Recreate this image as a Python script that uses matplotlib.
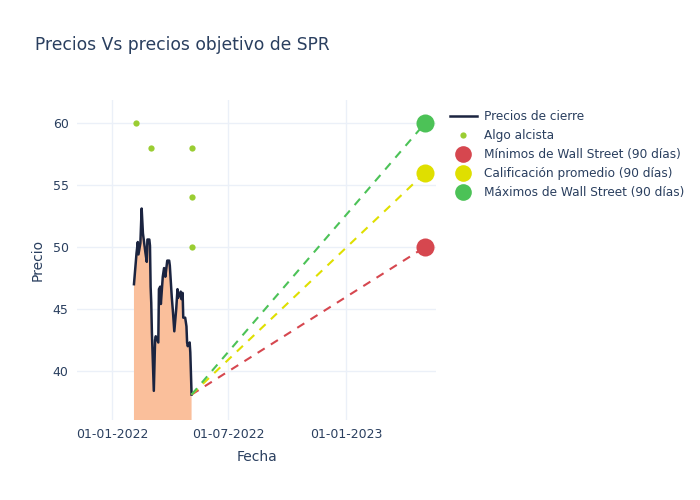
import matplotlib
matplotlib.use("Agg")
import matplotlib.pyplot as plt
import matplotlib.dates as mdates
from matplotlib.lines import Line2D
import pandas as pd

# ---- data ----
price_dates = ["2022-02-04", "2022-02-08", "2022-02-10", "2022-02-11", "2022-02-14",
               "2022-02-16", "2022-02-18", "2022-02-22", "2022-02-24", "2022-02-25",
               "2022-02-28", "2022-03-01", "2022-03-02", "2022-03-03", "2022-03-04",
               "2022-03-07", "2022-03-09", "2022-03-10", "2022-03-14", "2022-03-15",
               "2022-03-17", "2022-03-18", "2022-03-21", "2022-03-23", "2022-03-25",
               "2022-03-28", "2022-03-31", "2022-04-01", "2022-04-04", "2022-04-06",
               "2022-04-08", "2022-04-11", "2022-04-13", "2022-04-14", "2022-04-18",
               "2022-04-19", "2022-04-21", "2022-04-22", "2022-04-25", "2022-04-27",
               "2022-04-28", "2022-04-29", "2022-05-02", "2022-05-03", "2022-05-05"]
price_values = [47.0, 49.5, 50.4, 49.4, 50.3,
                53.1, 51.1, 49.5, 48.8, 50.6,
                50.6, 50.1, 46.8, 45.5, 43.1,
                38.4, 42.5, 42.8, 42.3, 46.6,
                46.8, 45.4, 47.6, 48.3, 47.6,
                48.9, 48.9, 48.5, 46.0, 44.7,
                43.2, 45.0, 46.6, 45.9, 46.4,
                45.8, 46.3, 44.3, 44.3, 43.6,
                42.3, 42.0, 42.3, 41.5, 38.1]

alcista_dates = ["2022-02-07", "2022-03-03", "2022-05-05", "2022-05-05", "2022-05-05"]
alcista_values = [60, 58, 58, 54, 50]

target_date = "2023-05-05"
target_labels = ["Mínimos de Wall Street (90 días)",
                 "Calificación promedio (90 días)",
                 "Máximos de Wall Street (90 días)"]
target_values = [50, 56, 60]
target_colors = ["#d6474f", "#dfdf00", "#4cc257"]

xtick_dates = ["2022-01-01", "2022-07-01", "2023-01-01"]
xtick_labels = ["01-01-2022", "01-07-2022", "01-01-2023"]
ytick_values = [40, 45, 50, 55, 60]

# ---- plot ----
text_color = "#2a3f5f"
grid_color = "#ebf0f8"

fig = plt.figure(figsize=(7, 5), dpi=100)
ax = fig.add_axes([0.11, 0.16, 0.513, 0.64])

pd_dates = pd.to_datetime(price_dates)
ax.fill_between(pd_dates, price_values, 0, color="#fabf9b", linewidth=0, zorder=2)
ax.plot(pd_dates, price_values, color="#1b2440", linewidth=1.8, zorder=3)

ax.plot(pd.to_datetime(alcista_dates), alcista_values, "o", color="#9acd32",
        markersize=4.5, markeredgewidth=0, zorder=4)

last_date = pd_dates[-1]
last_val = price_values[-1]
tdate = pd.to_datetime(target_date)
for val, col in zip(target_values, target_colors):
    ax.plot([last_date, tdate], [last_val, val], color=col, linestyle=(0, (4, 3.5)),
            linewidth=1.5, zorder=4)
for val, col in zip(target_values, target_colors):
    ax.plot([tdate], [val], "o", color=col, markersize=13, markeredgewidth=0, zorder=5)

ax.set_xlim(pd.to_datetime("2021-11-07"), pd.to_datetime("2023-05-22"))
ax.set_ylim(36.05, 61.85)
ax.set_xticks(pd.to_datetime(xtick_dates))
ax.set_xticklabels(xtick_labels)
ax.set_yticks(ytick_values)
ax.tick_params(colors=text_color, labelsize=9, length=0, pad=6)
ax.grid(True, color=grid_color, linewidth=1, zorder=0)
ax.set_axisbelow(True)
for s in ax.spines.values():
    s.set_visible(False)

ax.set_xlabel("Fecha", color=text_color, fontsize=10, labelpad=6)
ax.set_ylabel("Precio", color=text_color, fontsize=10, labelpad=6)

fig.text(0.05, 0.91, "Precios Vs precios objetivo de SPR", color=text_color,
         fontsize=12.3, va="center", ha="left")

handles = [Line2D([], [], color="#1b2440", linewidth=1.8),
           Line2D([], [], marker="o", linestyle="", color="#9acd32", markersize=4.5, markeredgewidth=0)]
for col in target_colors:
    handles.append(Line2D([], [], marker="o", linestyle="", color=col, markersize=12, markeredgewidth=0))
labels = ["Precios de cierre", "Algo alcista"] + target_labels
leg = fig.legend(handles, labels, loc="upper left", bbox_to_anchor=(0.636, 0.79),
                 frameon=False, fontsize=8.7, handlelength=2.2, labelspacing=0.5,
                 handletextpad=0.6, borderaxespad=0)
for t in leg.get_texts():
    t.set_color(text_color)

fig.savefig("out.png", dpi=100)
